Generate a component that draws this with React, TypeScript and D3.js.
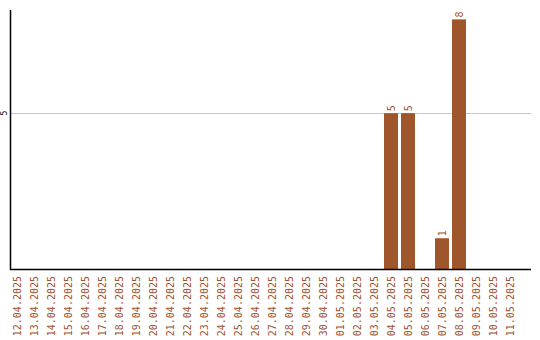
import React from "react";
import * as d3 from "d3";

const dates = [
  "12.04.2025", "13.04.2025", "14.04.2025", "15.04.2025", "16.04.2025", "17.04.2025",
  "18.04.2025", "19.04.2025", "20.04.2025", "21.04.2025", "22.04.2025", "23.04.2025",
  "24.04.2025", "25.04.2025", "26.04.2025", "27.04.2025", "28.04.2025", "29.04.2025",
  "30.04.2025", "01.05.2025", "02.05.2025", "03.05.2025", "04.05.2025", "05.05.2025",
  "06.05.2025", "07.05.2025", "08.05.2025", "09.05.2025", "10.05.2025", "11.05.2025",
];
const counts = [
  0, 0, 0, 0, 0, 0, 0, 0, 0, 0, 0, 0, 0, 0, 0, 0, 0, 0, 0, 0, 0, 0, 5, 5, 0, 1, 8, 0, 0, 0,
];
const yTicks = [5];

const W = 540;
const H = 340;
const axisX = 11;
const axisRight = 531;
const baseY = 269.5;
const topY = 10;
const barColor = "#a0562b";
const labelColor = "#a0522d";
const mono = "'DejaVu Sans Mono', monospace";

export default function App() {
  const x = d3
    .scaleBand<string>()
    .domain(dates)
    .range([8.5, 518.5])
    .paddingInner(3 / 17)
    .paddingOuter(1.5 / 17);
  const y = d3.scaleLinear().domain([0, 8.3]).range([baseY, topY]);

  return (
    <svg
      width={W}
      height={H}
      style={{ position: "absolute", left: 0, top: 0, display: "block" }}
    >
      <rect width={W} height={H} fill="#fff" />
      {yTicks.map((t) => (
        <g key={t}>
          <line
            x1={axisX}
            x2={axisRight}
            y1={Math.round(y(t)) + 0.5}
            y2={Math.round(y(t)) + 0.5}
            stroke="#c8c8c8"
          />
          <text
            transform={`translate(7,${y(t)}) rotate(-90)`}
            textAnchor="middle"
            fontFamily={mono}
            fontSize={8}
            fill="#000"
          >
            {t}
          </text>
        </g>
      ))}
      {dates.map((d, i) =>
        counts[i] > 0 ? (
          <g key={d}>
            <rect
              x={x(d)!}
              y={y(counts[i])}
              width={x.bandwidth()}
              height={baseY - y(counts[i])}
              fill={barColor}
            />
            <text
              transform={`translate(${x(d)! + x.bandwidth() / 2 + 3.5},${y(counts[i]) - 2}) rotate(-90)`}
              textAnchor="start"
              fontFamily={mono}
              fontSize={10}
              fill={labelColor}
            >
              {counts[i]}
            </text>
          </g>
        ) : null
      )}
      <line x1={axisX - 0.5} x2={axisX - 0.5} y1={topY} y2={baseY + 0.5} stroke="#000" strokeWidth={1.5} />
      <line x1={axisX - 1} x2={axisRight} y1={baseY} y2={baseY} stroke="#000" strokeWidth={1.5} />
      {dates.map((d) => (
        <text
          key={d}
          transform={`translate(${x(d)! + x.bandwidth() / 2 + 3.5},276) rotate(-90)`}
          textAnchor="end"
          fontFamily={mono}
          fontSize={10}
          fill={labelColor}
        >
          {d}
        </text>
      ))}
    </svg>
  );
}
